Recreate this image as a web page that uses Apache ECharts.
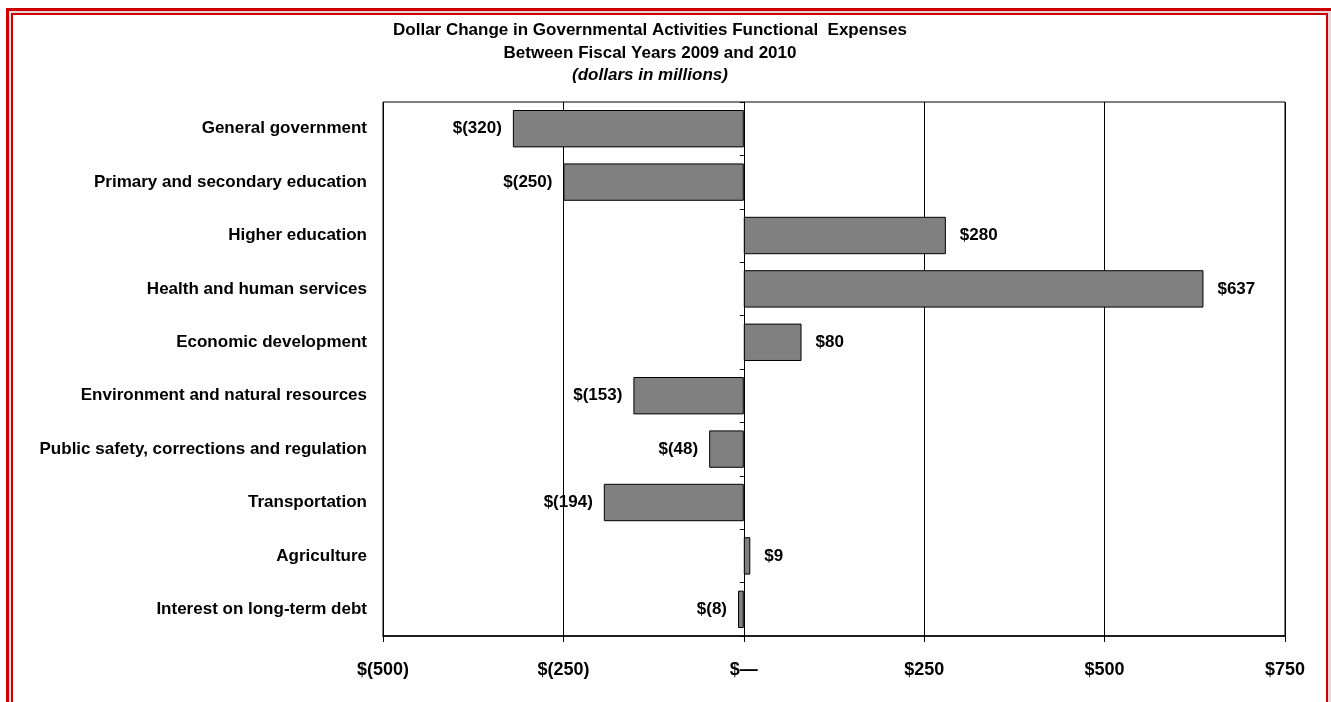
<!DOCTYPE html>
<html>
<head>
<meta charset="utf-8">
<script src="https://cdn.jsdelivr.net/npm/echarts@6/dist/echarts.min.js"></script>
<style>
  html, body { margin: 0; padding: 0; background: #ffffff; overflow: hidden; }
  #frameOuter { position: absolute; left: 6px; top: 8px; width: 1340px; height: 720px; border: 3px solid #cc0000; background: #ead6d6; box-sizing: border-box; }
  #frameInner { position: absolute; left: 11px; top: 13px; width: 1317px; height: 720px; border: 2px solid #cc0000; background: #ffffff; box-sizing: border-box; }
  #chart { position: absolute; left: 0; top: 0; width: 1331px; height: 702px; }
</style>
</head>
<body>
<div id="frameOuter"></div>
<div id="frameInner"></div>
<div id="chart"></div>
<script>
const categories = [
  'General government',
  'Primary and secondary education',
  'Higher education',
  'Health and human services',
  'Economic development',
  'Environment and natural resources',
  'Public safety, corrections and regulation',
  'Transportation',
  'Agriculture',
  'Interest on long-term debt'
];
const changes = [-320, -250, 280, 637, 80, -153, -48, -194, 9, -8];
const titleLines = [
  'Dollar Change in Governmental Activities Functional  Expenses',
  'Between Fiscal Years 2009 and 2010',
  '(dollars in millions)'
];
const axisMin = -500, axisMax = 750, axisStep = 250;

function money(v) {
  if (v === 0) return '$\u2014';
  if (v < 0) return '$(' + Math.abs(v) + ')';
  return '$' + v;
}

const FONT = "'Liberation Sans', Arial, Helvetica, sans-serif";
const chart = echarts.init(document.getElementById('chart'), null, { renderer: 'canvas' });

const barData = changes.map(v => ({
  value: v,
  label: { position: v < 0 ? 'left' : 'right', distance: v < 0 ? 11 : 14 }
}));

const TITLE_X = 650;

chart.setOption({
  backgroundColor: 'transparent',
  animation: false,
  textStyle: { fontFamily: FONT },
  graphic: [
    { type: 'text', x: TITLE_X, y: 30, style: { text: titleLines[0], font: 'bold 17px ' + FONT, fill: '#000', align: 'center', verticalAlign: 'middle' } },
    { type: 'text', x: TITLE_X, y: 53, style: { text: titleLines[1], font: 'bold 17px ' + FONT, fill: '#000', align: 'center', verticalAlign: 'middle' } },
    { type: 'text', x: TITLE_X, y: 75, style: { text: titleLines[2], font: 'italic bold 17px ' + FONT, fill: '#000', align: 'center', verticalAlign: 'middle' } }
  ],
  grid: {
    left: 383, top: 102, right: 46, bottom: 66,
    show: true, borderColor: '#000', borderWidth: 1, backgroundColor: 'transparent'
  },
  xAxis: {
    type: 'value', min: axisMin, max: axisMax, interval: axisStep,
    axisLine: { show: true, lineStyle: { color: '#000', width: 1.5 } },
    axisTick: { show: true, length: 6, lineStyle: { color: '#000', width: 1 } },
    axisLabel: { formatter: money, color: '#000', fontWeight: 'bold', fontSize: 18, fontFamily: FONT, margin: 25 },
    splitLine: { show: true, lineStyle: { color: '#000', width: 1 } }
  },
  yAxis: [
    {
      type: 'category', data: categories, inverse: true,
      axisLine: { show: false, onZero: false },
      axisTick: { show: false },
      axisLabel: { color: '#000', fontWeight: 'bold', fontSize: 17, fontFamily: FONT, margin: 16 }
    },
    {
      type: 'category', data: categories, inverse: true, position: 'left',
      axisLine: { show: true, onZero: true, lineStyle: { color: '#000', width: 1 } },
      axisTick: { show: true, length: 4, lineStyle: { color: '#000' } },
      axisLabel: { show: false }
    }
  ],
  series: [{
    type: 'bar',
    yAxisIndex: 0,
    data: barData,
    barCategoryGap: '30%',
    itemStyle: { color: '#808080', borderColor: '#000', borderWidth: 1 },
    label: {
      show: true,
      formatter: p => money(p.value),
      color: '#000', fontWeight: 'bold', fontSize: 17, fontFamily: FONT
    }
  }]
});
</script>
</body>
</html>
